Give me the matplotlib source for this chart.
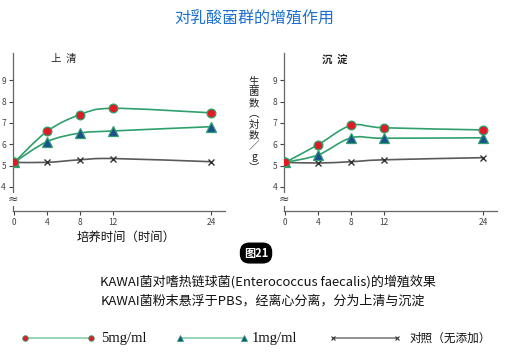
import numpy as np
import matplotlib.pyplot as plt
from matplotlib.path import Path
from matplotlib.patches import PathPatch
from matplotlib.lines import Line2D

plt.rcParams['font.family'] = ['Noto Sans CJK SC', 'DejaVu Sans']

hours = [0, 4, 8, 12, 24]
hour_ticks = [0, 4, 8, 12, 24]
y_ticks = [4, 5, 6, 7, 8, 9]

# 上清 (supernatant)
sup_5mg = [5.15, 6.60, 7.38, 7.68, 7.47]
sup_1mg = [5.15, 6.12, 6.52, 6.62, 6.82]
sup_ctrl = [5.15, 5.15, 5.27, 5.33, 5.18]

# 沉淀 (sediment)
sed_5mg = [5.15, 5.98, 6.88, 6.77, 6.67]
sed_1mg = [5.15, 5.50, 6.30, 6.28, 6.30]
sed_ctrl = [5.15, 5.12, 5.18, 5.27, 5.37]

legend_labels = ['5mg/ml', '1mg/ml', '对照（无添加）']

GREEN = '#2f9f6c'
RED = '#e01b24'
BLUE = '#1b4f8f'
GRAY = '#5a5a5a'


def smooth_path(x, y):
    """Catmull-Rom style bezier through the points"""
    x = np.asarray(x, float)
    y = np.asarray(y, float)
    verts = [(x[0], y[0])]
    codes = [Path.MOVETO]
    n = len(x)
    for i in range(n - 1):
        p0 = i - 1 if i > 0 else i
        p3 = i + 2 if i + 2 < n else i + 1
        c1 = (x[i] + (x[i + 1] - x[p0]) / 6, y[i] + (y[i + 1] - y[p0]) / 6)
        c2 = (x[i + 1] - (x[p3] - x[i]) / 6, y[i + 1] - (y[p3] - y[i]) / 6)
        verts += [c1, c2, (x[i + 1], y[i + 1])]
        codes += [Path.CURVE4] * 3
    return Path(verts, codes)


def draw_panel(ax, s5, s1, sc, title, bold=False):
    for s, col in [(sc, GRAY), (s1, GREEN), (s5, GREEN)]:
        ax.add_patch(PathPatch(smooth_path(hours, s), fc='none', ec=col, lw=1.2, zorder=2))
    ax.plot(hours, sc, ls='none', marker='x', ms=5, mew=1.0, color='#333333', zorder=3)
    ax.plot(hours, s1, ls='none', marker='^', ms=6.5, mfc=BLUE, mec=GREEN, mew=0.9, zorder=3)
    ax.plot(hours, s5, ls='none', marker='o', ms=6.3, mfc=RED, mec=GREEN, mew=0.9, zorder=4)
    ax.set_xlim(-0.15, 25.7)
    ax.set_ylim(2.87, 10.27)
    ax.set_xticks(hour_ticks)
    ax.set_yticks(y_ticks)
    for sp in ['top', 'right']:
        ax.spines[sp].set_visible(False)
    for sp in ['left', 'bottom']:
        ax.spines[sp].set_color('#666666')
        ax.spines[sp].set_linewidth(0.9)
    ax.tick_params(labelsize=6, colors='#444444', length=3, width=0.8, pad=2)
    ax.text(-0.15, 3.4, '≈', ha='center', va='center', fontsize=9, color='#444444',
            family='DejaVu Sans', bbox=dict(fc='white', ec='none', pad=0.1))
    ax.text(0.24, 0.962, title, transform=ax.transAxes, fontsize=7.5, ha='center', va='center',
            color='#222222', fontweight='bold' if bold else 'normal')


fig = plt.figure(figsize=(5.09, 3.62), dpi=100)
ax1 = fig.add_axes([0.0255, 0.417, 0.4165, 0.4365])
ax2 = fig.add_axes([0.558, 0.417, 0.4185, 0.4365])
draw_panel(ax1, sup_5mg, sup_1mg, sup_ctrl, '上  清')
draw_panel(ax2, sed_5mg, sed_1mg, sed_ctrl, '沉  淀', bold=True)

fig.text(0.5, 0.948, '对乳酸菌群的增殖作用', color='#1a6fd0', fontsize=11.5, ha='center', va='center')
fig.text(0.499, 0.655, '生\n菌\n数\n︵\n対\n数\n／\ng\n︶', fontsize=7.5, ha='center', va='center',
         linespacing=1.1, color='#222222')
fig.text(0.247, 0.345, '培养时间（时间）', fontsize=8.9, ha='center', va='center', color='#111111')
fig.text(0.503, 0.301, '图21', fontsize=8, fontweight='bold', color='white', ha='center', va='center',
         bbox=dict(boxstyle='round,pad=0.3,rounding_size=0.8', fc='black', ec='black'))
fig.text(0.197, 0.221, 'KAWAI菌对嗜热链球菌(Enterococcus faecalis)的增殖效果', fontsize=9.4,
         ha='left', va='center', color='#111111')
fig.text(0.197, 0.169, 'KAWAI菌粉末悬浮于PBS，经离心分离，分为上清与沉淀', fontsize=9.4,
         ha='left', va='center', color='#111111')

# legend drawn by hand: marker - line - marker, then label
W = 509.0
ly = 0.066
legend_styles = [
    dict(color='#8fd3b0', marker='o', ms=4, mfc=RED, mec=GREEN, mew=0.6),
    dict(color='#8fd3b0', marker='^', ms=4, mfc=BLUE, mec=GREEN, mew=0.6),
    dict(color='#888888', marker='x', ms=3.5, mew=0.8, mec='#333333'),
]
legend_x = [(25, 91, 101), (180, 244, 252), (333, 397, 409)]
for (x0, x1, xt), style, lab in zip(legend_x, legend_styles, legend_labels):
    fig.add_artist(Line2D([x0 / W, x1 / W], [ly, ly], lw=1.3, transform=fig.transFigure, **style))
    is_cjk = lab.startswith('对')
    fig.text(xt / W, ly, lab, ha='left', va='center', color='#111111',
             fontsize=8.4 if is_cjk else 10.5,
             family=['Noto Sans CJK SC'] if is_cjk else ['Liberation Serif'])

fig.savefig('out.png', dpi=100)
